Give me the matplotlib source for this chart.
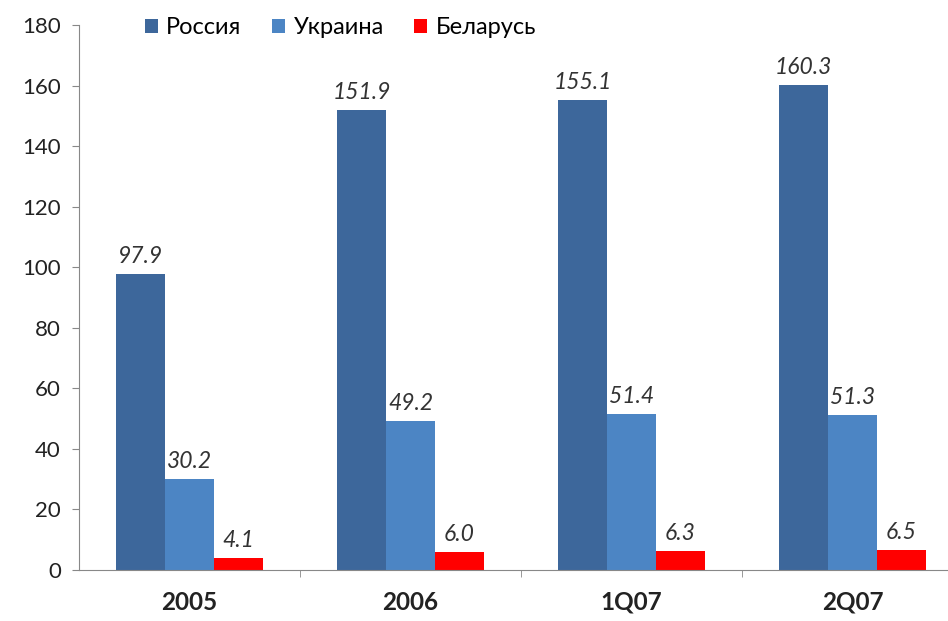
import matplotlib
matplotlib.use("Agg")
import matplotlib.pyplot as plt
import numpy as np

categories = ["2005", "2006", "1Q07", "2Q07"]
series_names = ["Россия", "Украина", "Беларусь"]
russia = [97.9, 151.9, 155.1, 160.3]
ukraine = [30.2, 49.2, 51.4, 51.3]
belarus = [4.1, 6.0, 6.3, 6.5]
colors = ["#3D679B", "#4C85C4", "#FF0000"]

plt.rcParams['font.family'] = ['Lato', 'DejaVu Sans']

fig = plt.figure(figsize=(9.48, 6.21), dpi=100)
W, H = 948, 621
ax = fig.add_axes([79 / W, (H - 570) / H, 884 / W, 545 / H])

x = np.arange(len(categories))
bw = 0.222
data = [russia, ukraine, belarus]
offsets = [-bw, 0, bw]
handles = []
for vals, off, col, name in zip(data, offsets, colors, series_names):
    b = ax.bar(x + off, vals, width=bw, color=col, label=name)
    handles.append(b)
    for xi, v in zip(x + off, vals):
        ax.text(xi, v + 2.3, f"{v:.1f}", ha="center", va="bottom",
                fontsize=16.5, style="italic", color="#333333")

ax.set_xlim(-0.5, len(categories) - 0.5)
ax.set_ylim(0, 180)
ax.set_yticks(np.arange(0, 181, 20))
ax.tick_params(axis="y", labelsize=16, length=5, color="#888888", pad=8, labelcolor="#222222")
ax.set_xticks(x)
ax.set_xticklabels(categories, fontsize=17.5, fontweight="bold", color="#222222")
ax.tick_params(axis="x", length=0, pad=15)
ax.set_xticks(np.arange(0.5, len(categories) - 0.5, 1), minor=True)
ax.tick_params(axis="x", which="minor", length=5, color="#888888")

for s in ["top", "right"]:
    ax.spines[s].set_visible(False)
ax.spines["left"].set_color("#888888")
ax.spines["bottom"].set_color("#888888")

fig.legend(handles=handles, labels=series_names, loc="center left",
           bbox_to_anchor=(145 / W, 1 - 28 / H), ncol=3, frameon=False,
           fontsize=17, handlelength=0.55, handleheight=0.55, handletextpad=0.35,
           columnspacing=1.3, borderpad=0, borderaxespad=0)

fig.savefig("out.png", dpi=100)
